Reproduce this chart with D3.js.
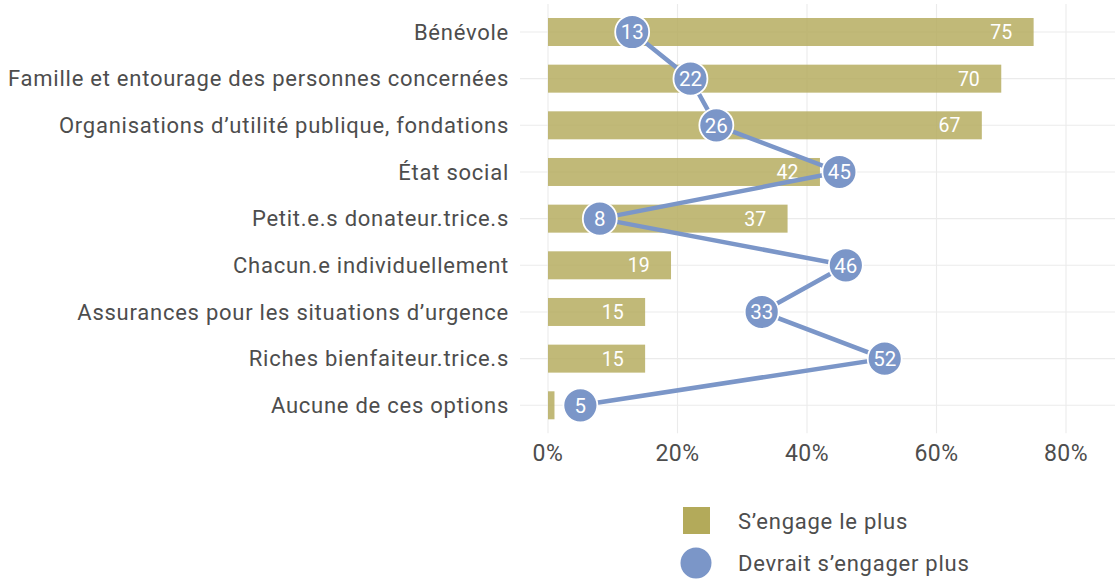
<!DOCTYPE html>
<html>
<head>
<meta charset="utf-8">
<script src="https://cdn.jsdelivr.net/npm/d3@7"></script>
<style>
  body { margin: 0; background: #fff; }
  svg text { font-family: "Roboto", "Liberation Sans", sans-serif; }
</style>
</head>
<body>
<svg id="chart" width="1115" height="581"></svg>
<script>
// categories, top to bottom
var categories = [
    "Bénévole",
    "Famille et entourage des personnes concernées",
    "Organisations d’utilité publique, fondations",
    "État social",
    "Petit.e.s donateur.trice.s",
    "Chacun.e individuellement",
    "Assurances pour les situations d’urgence",
    "Riches bienfaiteur.trice.s",
    "Aucune de ces options"
];
// "S'engage le plus" (bars, %)
var engageValues = [75, 70, 67, 42, 37, 19, 15, 15, 1];
// "Devrait s'engager plus" (points, %)
var shouldValues = [13, 22, 26, 45, 8, 46, 33, 52, 5];
var xTicks = [0, 20, 40, 60, 80];
var legendLabels = ["S’engage le plus", "Devrait s’engager plus"];

var barColor = "#b3aa5a";
var dotColor = "#7b96c8";
var textColor = "#4d4d4d";

var svg = d3.select("#chart");
var panel = {left: 520, right: 1115, top: 4, bottom: 433.3};

// x: 0% sits at 548, 6.475px per %
var xScale = d3.scaleLinear().domain([0, 80]).range([548, 548 + 80 * 6.475]);
var yScale = d3.scaleBand().domain(categories)
    .range([panel.top, panel.bottom]).paddingInner(0.4).paddingOuter(0.3);

function yMid(i) { return yScale(categories[i]) + yScale.bandwidth() / 2; }

// Grid
var grid = svg.append("g");
xTicks.forEach(function(t) {
    grid.append("line")
        .attr("x1", xScale(t)).attr("x2", xScale(t))
        .attr("y1", panel.top).attr("y2", panel.bottom)
        .attr("stroke", "#ebebeb").attr("stroke-width", 1.1);
});
categories.forEach(function(c, i) {
    grid.append("line")
        .attr("x1", panel.left).attr("x2", panel.right)
        .attr("y1", yMid(i)).attr("y2", yMid(i))
        .attr("stroke", "#ebebeb").attr("stroke-width", 1.1);
});

// Bars
svg.append("g").selectAll("rect").data(engageValues).enter()
    .append("rect")
    .attr("x", xScale(0))
    .attr("y", function(d, i) { return yScale(categories[i]); })
    .attr("width", function(d) { return xScale(d) - xScale(0); })
    .attr("height", yScale.bandwidth())
    .attr("fill", barColor)
    .attr("fill-opacity", 0.82);

// Bar labels (the tiny "Aucune" bar has none)
svg.append("g").selectAll("text").data(engageValues).enter()
    .append("text")
    .attr("x", function(d) { return xScale(d - 5); })
    .attr("y", function(d, i) { return yMid(i); })
    .attr("dy", "0.36em")
    .attr("text-anchor", "middle")
    .attr("font-size", 19.5)
    .attr("fill", "#fff")
    .text(function(d) { return d > 5 ? d : ""; });

// Line through the dots
var line = d3.line()
    .x(function(d) { return xScale(d); })
    .y(function(d, i) { return yMid(i); });
svg.append("path")
    .datum(shouldValues)
    .attr("d", line)
    .attr("fill", "none")
    .attr("stroke", dotColor)
    .attr("stroke-width", 4.5);

// Dots
var dots = svg.append("g").selectAll("g").data(shouldValues).enter()
    .append("g")
    .attr("transform", function(d, i) {
        return "translate(" + xScale(d) + "," + yMid(i) + ")";
    });
dots.append("circle")
    .attr("r", 17)
    .attr("fill", dotColor)
    .attr("stroke", "#fff")
    .attr("stroke-width", 1.8);
dots.append("text")
    .attr("dy", "0.36em")
    .attr("text-anchor", "middle")
    .attr("font-size", 20.5)
    .attr("fill", "#fff")
    .text(function(d) { return d; });

// Category labels
svg.append("g").selectAll("text").data(categories).enter()
    .append("text")
    .attr("x", 509)
    .attr("y", function(d, i) { return yMid(i); })
    .attr("dy", "0.35em")
    .attr("text-anchor", "end")
    .attr("font-size", 22)
    .attr("letter-spacing", 0.75)
    .attr("fill", textColor)
    .text(function(d) { return d; });

// X tick labels
svg.append("g").selectAll("text").data(xTicks).enter()
    .append("text")
    .attr("x", function(d) { return xScale(d); })
    .attr("y", 453)
    .attr("dy", "0.35em")
    .attr("text-anchor", "middle")
    .attr("font-size", 23)
    .attr("letter-spacing", 0.5)
    .attr("fill", textColor)
    .text(function(d) { return d + "%"; });

// Legend
var legend = svg.append("g");
legend.append("rect")
    .attr("x", 683).attr("y", 507)
    .attr("width", 27).attr("height", 27)
    .attr("fill", barColor);
legend.append("circle")
    .attr("cx", 696).attr("cy", 563).attr("r", 15.5)
    .attr("fill", dotColor);
legend.selectAll("text.leg").data(legendLabels).enter()
    .append("text")
    .attr("class", "leg")
    .attr("x", 738)
    .attr("y", function(d, i) { return 521 + i * 42; })
    .attr("dy", "0.35em")
    .attr("font-size", 22)
    .attr("letter-spacing", 0.75)
    .attr("fill", textColor)
    .text(function(d) { return d; });
</script>
</body>
</html>
